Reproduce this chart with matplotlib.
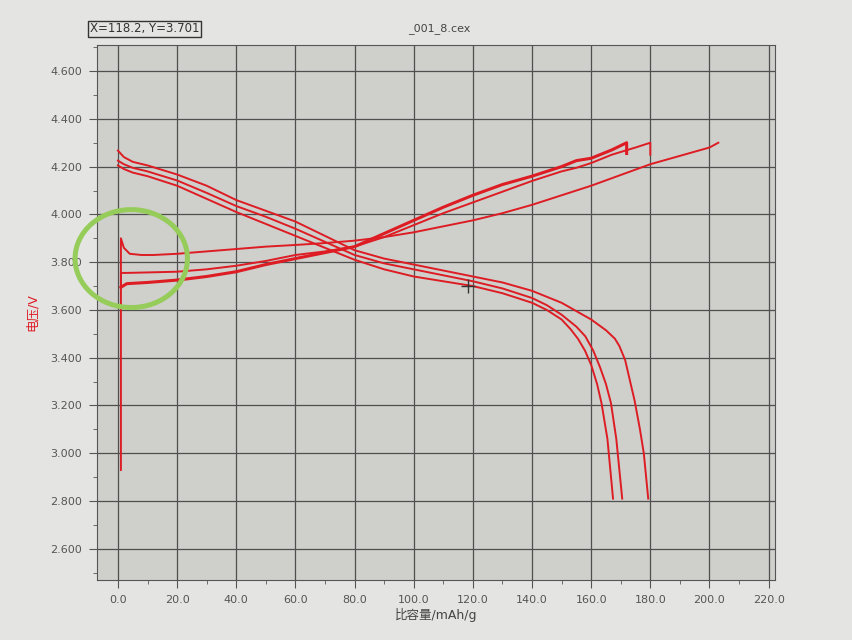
import matplotlib
matplotlib.use("Agg")
import matplotlib.pyplot as plt
from matplotlib.patches import Ellipse
from matplotlib.ticker import MultipleLocator, FormatStrFormatter

plt.rcParams['font.family'] = ['DejaVu Sans', 'Noto Sans CJK SC']

# discharge curves (capacity mAh/g, voltage V)
dis1_x = [0, 2, 5, 10, 20, 30, 40, 50, 60, 70, 80, 90, 100, 110, 120, 130, 140, 150,
          160, 165, 168, 169.5, 171.5, 173, 174.7, 176.5, 177.8, 179.3]
dis1_y = [4.267, 4.24, 4.22, 4.205, 4.167, 4.12, 4.06, 4.015, 3.97, 3.91, 3.85, 3.815,
          3.79, 3.765, 3.74, 3.715, 3.68, 3.63, 3.56, 3.515, 3.48, 3.45, 3.39, 3.31,
          3.22, 3.10, 3.00, 2.81]
dis2_x = [0, 2, 5, 10, 20, 30, 40, 50, 60, 70, 80, 90, 100, 110, 120, 130, 140, 145,
          150, 155, 158, 160.7, 163, 165, 166.7, 168.5, 170.5]
dis2_y = [4.225, 4.21, 4.195, 4.18, 4.142, 4.09, 4.035, 3.99, 3.94, 3.885, 3.83, 3.795,
          3.77, 3.745, 3.72, 3.69, 3.65, 3.62, 3.58, 3.53, 3.49, 3.43, 3.36, 3.29, 3.21,
          3.06, 2.81]
dis3_x = [0, 2, 5, 10, 20, 30, 40, 50, 60, 70, 80, 90, 100, 110, 120, 130, 140, 145,
          150, 153, 155.5, 157.9, 160, 162, 163.5, 165.5, 167.4]
dis3_y = [4.205, 4.19, 4.175, 4.16, 4.12, 4.065, 4.01, 3.96, 3.91, 3.86, 3.81, 3.77,
          3.74, 3.72, 3.70, 3.67, 3.63, 3.60, 3.56, 3.52, 3.48, 3.43, 3.37, 3.29, 3.21,
          3.06, 2.81]

# charge curves
chg1_x = [1, 1, 2, 4, 8, 12, 20, 30, 40, 50, 60, 70, 80, 90, 100, 110, 120, 130, 140,
          150, 160, 170, 180, 190, 200, 203]
chg1_y = [2.93, 3.90, 3.86, 3.835, 3.83, 3.83, 3.835, 3.845, 3.855, 3.865, 3.872, 3.88,
          3.89, 3.905, 3.925, 3.95, 3.975, 4.005, 4.04, 4.08, 4.12, 4.165, 4.21, 4.245,
          4.28, 4.30]
chg2_x = [1, 1, 3, 10, 20, 30, 40, 50, 60, 70, 80, 90, 100, 110, 120, 130, 140, 150,
          155, 160, 167, 175, 180, 180]
chg2_y = [3.69, 3.755, 3.755, 3.757, 3.76, 3.77, 3.785, 3.805, 3.83, 3.845, 3.865, 3.905,
          3.955, 4.005, 4.05, 4.095, 4.14, 4.18, 4.195, 4.215, 4.25, 4.28, 4.30, 4.25]
chg3_x = [1, 3, 10, 20, 30, 40, 50, 60, 70, 80, 90, 100, 110, 120, 130, 140, 150, 155,
          160, 167, 172, 172]
chg3_y = [3.695, 3.71, 3.715, 3.725, 3.74, 3.76, 3.79, 3.815, 3.84, 3.865, 3.92, 3.975,
          4.03, 4.08, 4.125, 4.16, 4.20, 4.225, 4.235, 4.27, 4.30, 4.255]

cursor_x, cursor_y = 118.2, 3.701

red = "#dd1c24"
fig = plt.figure(figsize=(8.53, 6.4), dpi=100, facecolor="#e4e4e2")
ax = fig.add_axes([0.114, 0.094, 0.794, 0.836], facecolor="#cfcfcb")

ax.plot(dis1_x, dis1_y, c=red, lw=1.4)
ax.plot(dis2_x, dis2_y, c=red, lw=1.4)
ax.plot(dis3_x, dis3_y, c=red, lw=1.4)
ax.plot(chg1_x, chg1_y, c=red, lw=1.4)
ax.plot(chg2_x, chg2_y, c=red, lw=1.4)
ax.plot(chg3_x, chg3_y, c=red, lw=2.2)

ax.plot(cursor_x, cursor_y, marker="+", ms=10, mew=1, c="#333333")

ax.add_patch(Ellipse((4.5, 3.815), 38, 0.41, fill=False, ec="#96cd5a", lw=3.6,
                     clip_on=False, zorder=5))

ax.set_xlim(-7, 222)
ax.set_ylim(2.47, 4.71)
ax.xaxis.set_major_locator(MultipleLocator(20))
ax.xaxis.set_minor_locator(MultipleLocator(10))
ax.yaxis.set_major_locator(MultipleLocator(0.2))
ax.yaxis.set_minor_locator(MultipleLocator(0.1))
ax.xaxis.set_major_formatter(FormatStrFormatter("%.1f"))
ax.yaxis.set_major_formatter(FormatStrFormatter("%.3f"))
ax.grid(True, which="major", c="#4f4f4f", lw=0.9)
ax.tick_params(which="major", direction="out", length=6, color="#555555",
               labelsize=8, labelcolor="#555555", pad=5)
ax.tick_params(which="minor", direction="out", length=3, color="#555555")
for s in ax.spines.values():
    s.set_color("#555555")

ax.set_xlabel("比容量/mAh/g", fontsize=9, color="#444444", labelpad=2)
ax.set_ylabel("电压/V", fontsize=9, color=red, labelpad=8)

fig.text(0.105, 0.955, "X=118.2, Y=3.701", fontsize=8.5, color="#333333",
         va="center", ha="left",
         bbox=dict(boxstyle="square,pad=0.15", fc="#e4e4e2", ec="#333333", lw=1))
fig.text(0.515, 0.955, "_001_8.cex", fontsize=8, color="#444444",
         va="center", ha="center")

fig.savefig("out.png", dpi=100, facecolor=fig.get_facecolor())
